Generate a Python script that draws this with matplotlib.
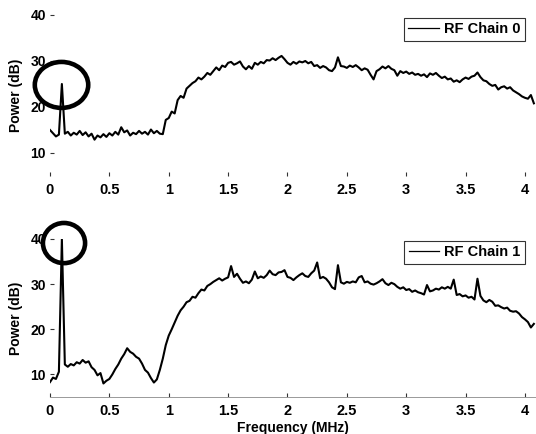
import numpy as np
import matplotlib
matplotlib.use("Agg")
import matplotlib.pyplot as plt
from matplotlib.patches import Ellipse

plt.rcParams['font.family'] = ['Liberation Sans', 'DejaVu Sans']
plt.rcParams['font.weight'] = 'bold'

# ---------------- data ----------------
freq_mhz = np.round(np.arange(164) * 0.025, 3)

power_chain0 = [
    15.0, 14.3, 13.6, 14.0, 25.0, 14.2, 14.6, 13.8, 14.4, 14.0,
    14.8, 13.9, 14.5, 13.6, 14.2, 12.9, 13.8, 13.4, 14.1, 13.5,
    14.3, 13.8, 14.6, 14.0, 15.6, 14.5, 14.9, 13.8, 14.4, 14.1,
    14.8, 14.2, 14.6, 14.0, 15.1, 14.3, 14.8, 14.2, 14.1, 17.2,
    17.6, 19.0, 18.6, 21.5, 22.4, 22.0, 24.0, 24.6, 25.2, 25.6,
    26.4, 26.0, 26.6, 27.4, 27.0, 27.8, 28.6, 28.0, 29.0, 28.7,
    29.6, 29.8, 29.2, 29.5, 29.9, 28.8, 28.2, 28.9, 28.3, 29.6,
    29.2, 29.8, 29.5, 30.2, 30.1, 30.6, 30.2, 30.7, 31.1, 30.4,
    29.6, 29.2, 29.8, 29.4, 29.9, 29.7, 30.0, 29.5, 29.8, 28.9,
    29.1, 28.5, 28.9, 28.6, 28.0, 27.8, 28.6, 30.8, 28.9, 28.8,
    28.5, 29.0, 28.7, 29.1, 28.6, 28.0, 28.4, 28.1, 27.0, 26.0,
    27.8, 28.2, 28.8, 28.4, 28.9, 28.3, 28.0, 26.8, 27.8, 27.4,
    27.7, 27.2, 27.5, 27.0, 27.2, 26.8, 27.1, 26.5, 27.3, 27.0,
    27.4, 26.8, 26.3, 26.6, 26.0, 26.2, 25.5, 25.8, 25.4, 26.0,
    26.4, 26.1, 26.6, 26.8, 27.5, 26.5, 25.8, 25.6, 25.0, 24.6,
    24.8, 23.8, 24.3, 24.5, 24.0, 24.3, 23.6, 23.2, 22.8, 22.3,
    22.0, 21.8, 22.6, 20.8,
]

power_chain1 = [
    8.3, 9.3, 9.0, 10.6, 40.0, 12.2, 11.7, 12.3, 12.0, 12.7,
    12.4, 13.2, 12.6, 12.9, 11.6, 11.0, 9.8, 10.3, 8.0, 8.6,
    9.0, 10.0, 11.2, 12.2, 13.5, 14.5, 15.8, 15.0, 14.6, 13.9,
    13.5, 12.4, 11.0, 10.4, 9.2, 8.2, 8.9, 11.0, 13.5, 16.5,
    18.6, 20.0, 21.5, 23.0, 24.2, 25.0, 26.0, 26.3, 27.2, 27.0,
    28.0, 28.8, 28.6, 29.6, 30.0, 30.5, 30.9, 31.3, 30.8, 31.2,
    31.5, 34.0, 31.6, 32.3, 31.2, 30.3, 30.6, 30.2, 31.0, 32.8,
    31.3, 31.7, 31.4, 32.0, 33.0, 32.2, 32.0, 32.6, 32.7, 33.1,
    31.6, 31.4, 30.9, 31.5, 32.0, 32.4, 31.8, 31.6, 32.4, 33.0,
    34.8, 31.3, 31.6, 31.2, 30.4, 29.3, 28.9, 34.2, 30.4, 30.1,
    30.5, 30.3, 30.6, 30.4, 31.5, 31.8, 30.4, 30.6, 30.1, 29.9,
    30.2, 30.6, 31.1, 30.2, 29.8, 30.3, 30.0, 29.4, 29.0, 29.3,
    28.7, 28.9, 28.3, 28.6, 28.2, 28.0, 27.7, 29.8, 28.4, 28.6,
    29.0, 28.8, 29.3, 29.0, 29.4, 29.0, 31.0, 27.6, 27.8, 27.3,
    27.5, 27.0, 27.2, 26.6, 31.2, 27.4, 26.4, 26.0, 26.5, 26.1,
    25.2, 25.3, 24.9, 24.6, 24.8, 24.1, 23.9, 24.0, 23.5, 22.7,
    22.2, 21.6, 20.4, 21.2,
]

series_labels = ["RF Chain 0", "RF Chain 1"]
x_ticks = [0, 0.5, 1, 1.5, 2, 2.5, 3, 3.5, 4]
x_tick_labels = ["0", "0.5", "1", "1.5", "2", "2.5", "3", "3.5", "4"]
y_ticks = [10, 20, 30, 40]
y_tick_labels = ["10", "20", "30", "40"]

# ---------------- figure ----------------
W, H = 536, 434
fig = plt.figure(figsize=(W / 100, H / 100), dpi=100)
fig.patch.set_facecolor("white")

ax0 = fig.add_axes([50 / W, 1 - 176 / H, 1 - 50 / W, (176 - 15) / H])
ax1 = fig.add_axes([50 / W, 1 - 397 / H, 1 - 50 / W, (397 - 239) / H])

series = [power_chain0, power_chain1]
legend_tops = [18, 241]
circle_specs = [  # (dx, dy, width, height) relative to the low-frequency spike
    (-0.003, -0.2, 0.45, 10.0),
    (0.018, -0.9, 0.355, 8.9),
]

for i, (ax, pw) in enumerate(zip([ax0, ax1], series)):
    ax.plot(freq_mhz, pw, color="black", lw=1.5, label=series_labels[i])
    ax.set_xlim(0, 4.093)
    ax.set_ylim(5, 40)
    ax.set_xticks(x_ticks)
    ax.set_xticklabels(x_tick_labels, fontsize=10.5, fontweight="bold")
    ax.set_yticks(y_ticks)
    ax.set_yticklabels(y_tick_labels, fontsize=10, fontweight="bold")
    ax.tick_params(axis="both", direction="in", length=3, width=0.8,
                   color="#333333")
    ax.tick_params(axis="x", pad=5)
    ax.tick_params(axis="y", pad=3)
    for s in ax.spines.values():
        s.set_visible(False)
    ax.set_ylabel("Power (dB)", fontsize=10, fontweight="bold")
    ax.yaxis.set_label_coords(-0.056, 0.5)

    leg = ax.legend(loc="upper right",
                    bbox_to_anchor=(525 / W, 1 - legend_tops[i] / H),
                    bbox_transform=fig.transFigure,
                    borderaxespad=0, fancybox=False, frameon=True,
                    prop={"size": 10.5, "weight": "bold"},
                    handlelength=2.1, handletextpad=0.35, borderpad=0.3)
    leg.get_frame().set_edgecolor("black")
    leg.get_frame().set_linewidth(0.8)
    leg.get_lines()[0].set_linewidth(0.9)

    # hand-drawn highlight circle around the low-frequency spike
    k = int(np.argmax(pw[:10]))
    dx, dy, w, h = circle_specs[i]
    ell = Ellipse((freq_mhz[k] + dx, pw[k] + dy), w, h, fill=False,
                  edgecolor="black", lw=3.3, clip_on=False, zorder=5)
    ax.add_patch(ell)

ax1.spines["bottom"].set_visible(True)
ax1.spines["bottom"].set_color("#999999")
ax1.spines["bottom"].set_linewidth(0.7)

ax1.set_xlabel("Frequency (MHz)", fontsize=10, fontweight="bold")
ax1.xaxis.set_label_coords(0.5, -0.152)

fig.savefig("out.png", dpi=100)
